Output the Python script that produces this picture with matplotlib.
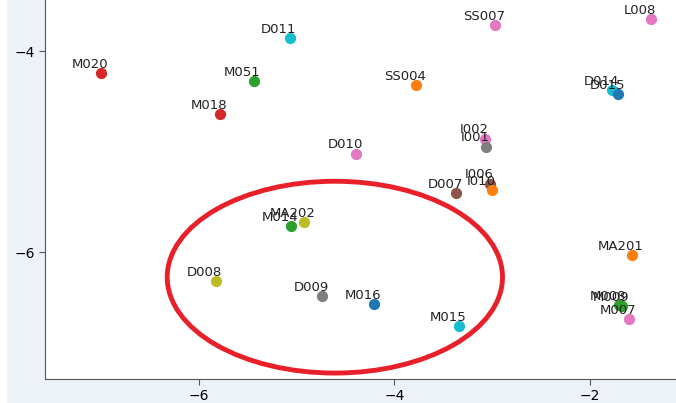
import numpy as np
import matplotlib.pyplot as plt
from matplotlib.patches import Ellipse, Rectangle

# point labels, 2-D coordinates and colours
labels = ['M020', 'D011', 'M051', 'M018', 'SS007', 'L008', 'SS004', 'D014', 'D015',
          'I002', 'I001', 'D010', 'D007', 'I006', 'I010', 'MA202', 'M014', 'D008',
          'D009', 'M016', 'M015', 'MA201', 'M008', 'M009', 'M007']
xs = [-7.00, -5.07, -5.44, -5.78, -2.97, -1.38, -3.78, -1.77, -1.71,
      -3.07, -3.06, -4.39, -3.37, -3.02, -3.00, -4.93, -5.06, -5.83,
      -4.74, -4.21, -3.34, -1.57, -1.70, -1.67, -1.60]
ys = [-4.22, -3.87, -4.30, -4.63, -3.74, -3.68, -4.34, -4.39, -4.43,
      -4.87, -4.95, -5.02, -5.41, -5.32, -5.38, -5.70, -5.74, -6.29,
      -6.44, -6.52, -6.74, -6.03, -6.53, -6.54, -6.67]
colors = ['tab:red', 'tab:cyan', 'tab:green', 'tab:red', 'tab:pink', 'tab:pink',
          'tab:orange', 'tab:cyan', 'tab:blue', 'tab:pink', 'tab:gray', 'tab:pink',
          'tab:brown', 'tab:brown', 'tab:orange', 'tab:olive', 'tab:green', 'tab:olive',
          'tab:gray', 'tab:blue', 'tab:cyan', 'tab:orange', 'tab:green', 'tab:green',
          'tab:pink']

# highlighted region (red ellipse)
ell_center = (-4.61, -6.25)
ell_width, ell_height = 3.43, 1.91

fig = plt.figure(figsize=(6.76, 4.03), dpi=100, facecolor='#edf1f8')
fig.patches.append(Rectangle((0, 0), 0.009, 1, transform=fig.transFigure,
                             color='white', zorder=0))
ax = fig.add_axes([0.0666, 0.0596, 0.9334, 0.9404])

for x, y, c, lab in zip(xs, ys, colors, labels):
    ax.scatter(x, y, s=50, color=c, zorder=3)
    ax.annotate(lab, (x, y), xytext=(-8, 3.8), textcoords='offset points',
                ha='center', va='baseline', fontsize=9.5, color='#222222')

ax.add_patch(Ellipse(ell_center, ell_width, ell_height, fill=False,
                     edgecolor='#e8202a', linewidth=3.5, zorder=4))

ax.set_xlim(-7.575, -1.12)
ax.set_ylim(-7.264, -3.49)
ax.set_xticks([-6, -4, -2])
ax.set_yticks([-6, -4])
ax.tick_params(labelsize=10, length=4, pad=3, color='#555555')
for side in ['top', 'right']:
    ax.spines[side].set_visible(False)
for side in ['left', 'bottom']:
    ax.spines[side].set_color('#555555')

fig.savefig('out.png', dpi=100, facecolor=fig.get_facecolor())
